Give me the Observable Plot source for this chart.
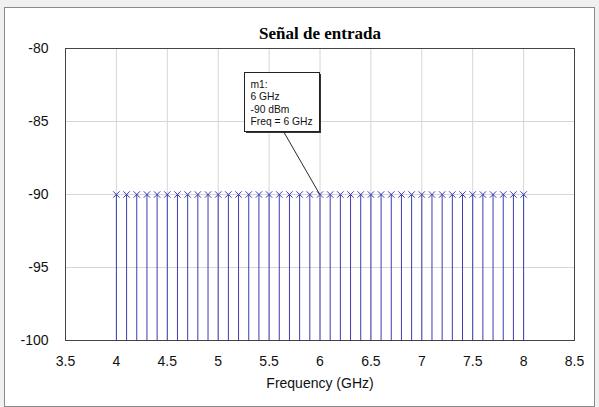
<!DOCTYPE html>
<html><head><meta charset="utf-8">
<script src="https://cdn.jsdelivr.net/npm/d3@7"></script>
<script src="https://cdn.jsdelivr.net/npm/@observablehq/plot@0.6"></script>
<style>
html,body{margin:0;padding:0;background:#f0f0f0;}
#wrap{position:relative;width:599px;height:407px;overflow:hidden;}
#box{position:absolute;left:4px;top:7px;width:589px;height:398px;border:1px solid #8a8a8a;background:#fff;}
#chart{position:absolute;left:0;top:0;}
</style></head><body>
<div id="wrap"><div id="box"></div><div id="chart"></div></div>
<script>
const frequencies = [4.0,4.1,4.2,4.3,4.4,4.5,4.6,4.7,4.8,4.9,5.0,5.1,5.2,5.3,5.4,5.5,5.6,5.7,5.8,5.9,6.0,6.1,6.2,6.3,6.4,6.5,6.6,6.7,6.8,6.9,7.0,7.1,7.2,7.3,7.4,7.5,7.6,7.7,7.8,7.9,8.0];
const powers = [-90,-90,-90,-90,-90,-90,-90,-90,-90,-90,-90,-90,-90,-90,-90,-90,-90,-90,-90,-90,-90,-90,-90,-90,-90,-90,-90,-90,-90,-90,-90,-90,-90,-90,-90,-90,-90,-90,-90,-90,-90];
const xTicks = [3.5,4,4.5,5,5.5,6,6.5,7,7.5,8,8.5];
const yTicks = [-80,-85,-90,-95,-100];
const baseline = -100;
const titleText = "Señal de entrada";
const xLabel = "Frequency (GHz)";
const markerIndex = 20;
const markerLines = ["m1:", "6 GHz", "-90 dBm", "Freq = 6 GHz"];

const data = frequencies.map((f, i) => ({f, p: powers[i]}));
const marker = data[markerIndex];
const blue = "#3c3cb4";

function annotation(index, scales) {
  const px = scales.x(marker.f), py = scales.y(marker.p);
  const bx = Math.round(px - 75.5) + 0.5, by = Math.round(py - 122) + 0.5, bw = 75, bh = 59;
  const g = d3.create("svg:g");
  g.append("line").attr("x1", bx + 39).attr("y1", by + bh).attr("x2", px).attr("y2", py)
    .attr("stroke", "#111").attr("stroke-width", 0.9);
  g.append("rect").attr("x", bx + 1.5).attr("y", by + 1.5).attr("width", bw).attr("height", bh).attr("fill", "#333");
  g.append("rect").attr("x", bx).attr("y", by).attr("width", bw).attr("height", bh)
    .attr("fill", "#fff").attr("stroke", "#222");
  markerLines.forEach((t, i) => {
    g.append("text").attr("x", bx + 6).attr("y", by + 15.5 + i * 12.4)
      .attr("text-anchor", "start")
      .attr("font-family", "Liberation Sans, Arial, sans-serif").attr("font-size", 10.3)
      .attr("fill", "#111").text(t);
  });
  return g.node();
}

const chart = Plot.plot({
  width: 599, height: 407,
  marginLeft: 65, marginRight: 25, marginTop: 48, marginBottom: 67,
  style: {background: "transparent", fontFamily: "Liberation Sans, Arial, sans-serif", color: "#111"},
  x: {domain: [3.5, 8.5]},
  y: {domain: [-100, -80]},
  marks: [
    Plot.gridX(xTicks, {stroke: "#d6d6d6", strokeOpacity: 1}),
    Plot.gridY(yTicks, {stroke: "#d6d6d6", strokeOpacity: 1}),
    Plot.axisX(xTicks, {tickSize: 0, tickPadding: 16, fontSize: 14, label: null, tickFormat: d => String(d)}),
    Plot.axisY(yTicks, {tickSize: 0, tickPadding: 17, fontSize: 14, label: null, tickFormat: d => String(d)}),
    Plot.ruleX(data, {x: "f", y1: baseline, y2: "p", stroke: blue, strokeWidth: 1}),
    Plot.dot(data, {x: "f", y: "p", symbol: "times", r: 3, stroke: blue, strokeWidth: 1}),
    Plot.frame({stroke: "#444", strokeWidth: 1}),
    Plot.text([titleText], {frameAnchor: "top", lineAnchor: "middle", dy: -15, fontSize: 17, fontWeight: "bold", fontFamily: "Liberation Serif, Times New Roman, serif", fill: "#000"}),
    Plot.text([xLabel], {frameAnchor: "bottom", lineAnchor: "middle", dy: 43, fontSize: 14, fill: "#111"}),
    annotation
  ]
});
document.getElementById("chart").appendChild(chart);
</script>
</body></html>
